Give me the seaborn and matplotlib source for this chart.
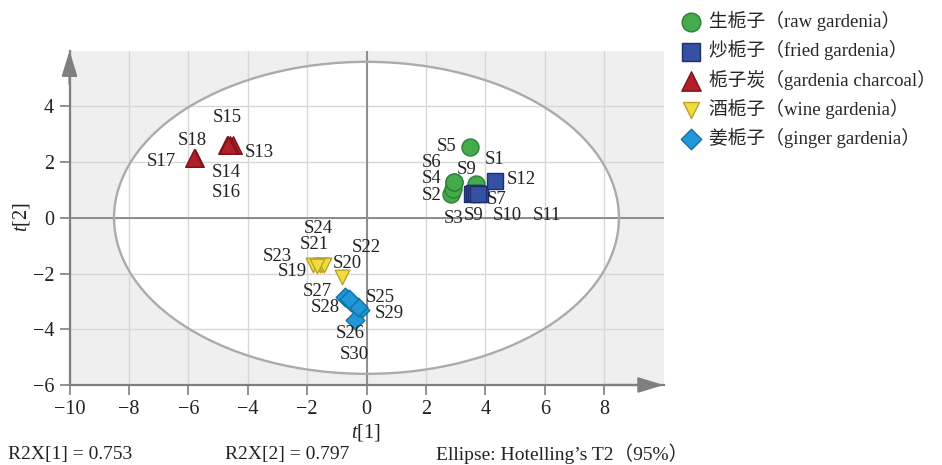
import matplotlib
matplotlib.use("Agg")
import matplotlib.pyplot as plt
from matplotlib.patches import Ellipse
import seaborn as sns
import pandas as pd

# ---------------- data ----------------
groups = ["生栀子（raw gardenia）", "炒栀子（fried gardenia）", "栀子炭（gardenia charcoal）",
          "酒栀子（wine gardenia）", "姜栀子（ginger gardenia）"]

raw_t1 = [3.70, 2.86, 2.92, 2.95, 3.48, 2.95]
raw_t2 = [1.22, 0.87, 1.05, 1.28, 2.56, 1.28]
fried_t1 = [3.81, 3.54, 3.62, 3.70, 3.76, 4.32]
fried_t2 = [0.87, 0.87, 0.88, 0.90, 0.86, 1.34]
charcoal_t1 = [-4.49, -4.60, -4.71, -4.65, -5.78, -5.80]
charcoal_t2 = [2.62, 2.63, 2.62, 2.60, 2.15, 2.16]
wine_t1 = [-1.80, -0.81, -1.57, -1.50, -1.43, -1.65]
wine_t2 = [-1.71, -2.13, -1.71, -1.70, -1.70, -1.72]
ginger_t1 = [-0.23, -0.39, -0.73, -0.51, -0.30, -0.60]
ginger_t2 = [-3.31, -3.67, -2.83, -3.01, -3.20, -2.92]

ellipse_axes = [17.0, 11.2]   # Hotelling's T2 (95%) ellipse width / height in score units

sample_labels = ["S15", "S18", "S17", "S13", "S14", "S16",
                 "S5", "S6", "S4", "S2", "S3", "S9", "S1", "S12", "S7", "S9", "S10", "S11",
                 "S24", "S21", "S23", "S19", "S22", "S20",
                 "S27", "S28", "S25", "S29", "S26", "S30"]

x_ticks = [-10, -8, -6, -4, -2, 0, 2, 4, 6, 8]
y_ticks = [-6, -4, -2, 0, 2, 4]

r2x_text = ["R2X[1] = 0.753", "R2X[2] = 0.797", "Ellipse: Hotelling’s T2（95%）"]

# ---------------- layout / style ----------------
label_pos = [(-4.67, 3.59), (-5.86, 2.78), (-6.90, 2.02), (-3.62, 2.36), (-4.71, 1.61), (-4.71, 0.91),
             (2.69, 2.56), (2.19, 2.00), (2.19, 1.40), (2.19, 0.80), (2.92, -0.03), (3.37, 1.75),
             (4.32, 2.08), (5.22, 1.37), (4.38, 0.67), (3.61, 0.09), (4.73, 0.09), (6.06, 0.09),
             (-1.61, -0.37), (-1.77, -0.97), (-3.01, -1.39), (-2.49, -1.93), (0.00, -1.05), (-0.65, -1.63),
             (-1.66, -2.65), (-1.40, -3.21), (0.45, -2.85), (0.76, -3.42), (-0.54, -4.14), (-0.42, -4.89)]

markers = ["o", "s", "^", "v", "D"]
fills = ["#44aa4c", "#3551a2", "#b21e29", "#f1dc3e", "#1f97d8"]
edges = ["#2e7f38", "#1f2e70", "#7d131b", "#b9a32b", "#15709f"]
sizes = [150, 140, 160, 110, 90]

sns.set_theme(style="white")
plt.rcParams["font.family"] = ["Liberation Serif", "Noto Sans CJK SC"]
plt.rcParams["mathtext.fontset"] = "custom"
plt.rcParams["mathtext.it"] = "Liberation Serif:italic"
plt.rcParams["mathtext.rm"] = "Liberation Serif"
plt.rcParams["axes.unicode_minus"] = True

W, H = 942, 465
fig = plt.figure(figsize=(W / 100, H / 100), dpi=100)
ax = fig.add_axes([69.5 / W, 80 / H, 594 / W, 334.3 / H])
ax.set_facecolor("#efefef")

ax.add_patch(Ellipse((0, 0), ellipse_axes[0], ellipse_axes[1], facecolor="white", edgecolor="none", zorder=0.1))
ax.add_patch(Ellipse((0, 0), ellipse_axes[0], ellipse_axes[1], facecolor="none", edgecolor="#ababab", lw=1.7, zorder=1.2))

ax.set_axisbelow(True)
ax.grid(True, color="#d7d7d7", lw=1.0)
ax.axhline(0, color="#8c8c8c", lw=1.4, zorder=0.9)
ax.axvline(0, color="#8c8c8c", lw=1.4, zorder=0.9)

series = [(raw_t1, raw_t2), (fried_t1, fried_t2), (charcoal_t1, charcoal_t2),
          (wine_t1, wine_t2), (ginger_t1, ginger_t2)]
for i, (gx, gy) in enumerate(series):
    df = pd.DataFrame({"t1": gx, "t2": gy})
    sns.scatterplot(data=df, x="t1", y="t2", marker=markers[i], color=fills[i],
                    edgecolor=edges[i], linewidth=1.0, s=sizes[i], ax=ax,
                    label=groups[i], zorder=3)

for name, (lx, ly) in zip(sample_labels, label_pos):
    ax.text(lx, ly, name, ha="center", va="center", fontsize=13.5, color="#222222", zorder=5)

ax.set_xlim(-10, 10)
ax.set_ylim(-6, 6)
ax.set_xticks(x_ticks)
ax.set_yticks(y_ticks)
ax.set_xlabel("")
ax.set_ylabel("")
for s in ["top", "right"]:
    ax.spines[s].set_visible(False)
for s in ["left", "bottom"]:
    ax.spines[s].set_color("#7f7f7f")
    ax.spines[s].set_linewidth(1.6)
ax.tick_params(bottom=True, left=True, direction="out", length=7, width=1.2,
               color="#7f7f7f", labelsize=14.5, labelcolor="#222222", pad=4)

arrow_kw = dict(arrowstyle="-|>,head_length=1.1,head_width=0.34", color="#7f7f7f",
                lw=1.6, mutation_scale=14, shrinkA=0, shrinkB=0)
ax.annotate("", xy=(0, 1.0), xytext=(0, 0.9), xycoords="axes fraction",
            arrowprops=arrow_kw, annotation_clip=False)
ax.annotate("", xy=(1.0, 0), xytext=(0.9, 0), xycoords="axes fraction",
            arrowprops=arrow_kw, annotation_clip=False)

fig.text(366 / W, 1 - 432 / H, r"$t$[1]", ha="center", va="center", fontsize=14.5, color="#222222")
fig.text(22 / W, 1 - 217 / H, r"$t$[2]", ha="center", va="center", fontsize=14.5,
         color="#222222", rotation=90)

fig.text(8 / W, 1 - 454 / H, r2x_text[0], ha="left", va="center", fontsize=14, color="#222222")
fig.text(225 / W, 1 - 454 / H, r2x_text[1], ha="left", va="center", fontsize=14, color="#222222")
fig.text(436 / W, 1 - 454 / H, r2x_text[2], ha="left", va="center", fontsize=14, color="#222222")

handles, labels = ax.get_legend_handles_labels()
ax.legend_.remove()
fig.legend(handles, labels, loc="upper left", bbox_to_anchor=(682 / W, 1 - 11 / H),
           frameon=False, fontsize=13.5, handlelength=1.0, handletextpad=0.45,
           labelspacing=0.48, borderpad=0, borderaxespad=0, markerscale=1.1)

fig.savefig("out.png", dpi=100)
